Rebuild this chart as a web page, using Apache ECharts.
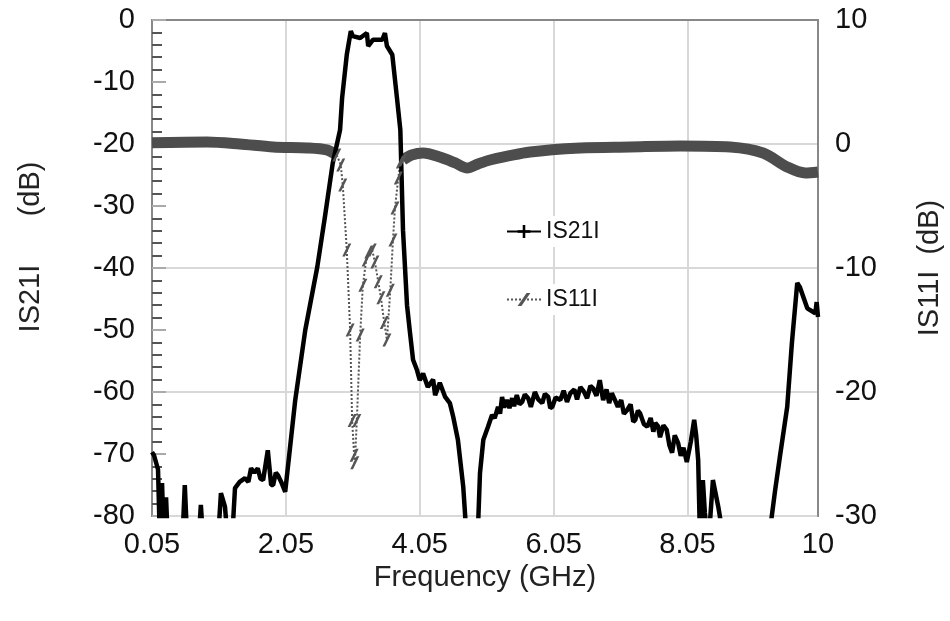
<!DOCTYPE html>
<html>
<head>
<meta charset="utf-8">
<title>IS21I / IS11I</title>
<script src="https://cdn.jsdelivr.net/npm/echarts@6/dist/echarts.min.js"></script>
<style>
  html, body { margin: 0; padding: 0; background: #fff; }
  #chart { width: 950px; height: 621px; }
</style>
</head>
<body>
<div id="chart"></div>
<script>
// frequency axis labels (GHz)
var xTicks = [0.05, 2.05, 4.05, 6.05, 8.05, 10];

// IS21I [GHz, dB]  (values below -80 run off the bottom of the plot)
var s21 = [
  [0.05,-69.7],[0.08,-70.2],[0.14,-72.5],[0.17,-85],[0.2,-74.7],[0.23,-85],[0.26,-77],[0.29,-85],
  [0.5,-85],[0.54,-75],[0.58,-85],
  [0.74,-85],[0.78,-78.2],[0.82,-85],
  [1.03,-85],[1.08,-76.3],[1.14,-78.5],[1.19,-85],[1.24,-85],[1.29,-75.5],[1.36,-74.5],[1.44,-73.9],
  [1.49,-74.5],[1.53,-72.3],[1.58,-73],[1.63,-72.3],[1.67,-74],[1.71,-74.2],[1.78,-69.4],[1.83,-75],
  [1.86,-75],[1.9,-73],[1.93,-73.4],[1.98,-74.5],[2.04,-76.1],
  [2.19,-61.3],[2.34,-50],[2.52,-39.8],[2.63,-32],[2.75,-23.1],[2.86,-17.7],[2.89,-12.6],[2.96,-5.6],
  [3.02,-1.8],[3.05,-2.6],[3.16,-2.9],[3.26,-2.1],[3.28,-4.2],[3.35,-3.2],[3.49,-3.2],[3.53,-2.1],
  [3.56,-4.2],[3.64,-5.6],[3.71,-12.6],[3.76,-17.7],[3.8,-33.9],[3.86,-46],[3.9,-50],[3.95,-54.8],
  [4.01,-56.5],[4.05,-58.1],[4.1,-57],[4.17,-59.2],[4.25,-58],[4.28,-60.5],[4.35,-58.5],[4.43,-60.8],
  [4.5,-61.8],[4.55,-64],[4.62,-67.7],[4.7,-75.3],[4.76,-85],[4.91,-85],[4.95,-73.1],
  [5,-67.7],[5.07,-65.6],[5.13,-63.7],[5.17,-64.2],[5.22,-62.4],[5.25,-63.5],[5.28,-60.8],[5.31,-62.5],
  [5.35,-61.3],[5.39,-62.6],[5.43,-61],[5.46,-62.3],[5.5,-60.5],[5.54,-62],[5.58,-61.6],[5.62,-60.4],
  [5.67,-61],[5.71,-62.4],[5.77,-60],[5.82,-61.2],[5.88,-61.8],[5.92,-60.3],[5.97,-60.8],[6,-62.6],
  [6.03,-62.4],[6.08,-60.9],[6.15,-61.3],[6.2,-59.8],[6.25,-61.6],[6.3,-60.2],[6.36,-59.6],[6.4,-61.2],
  [6.45,-59.2],[6.5,-59.9],[6.55,-61],[6.6,-59],[6.64,-59.4],[6.69,-60.6],[6.74,-58.1],[6.79,-61.3],
  [6.84,-59.6],[6.88,-61.8],[6.92,-60.2],[6.97,-61.4],[7.01,-62.4],[7.06,-61.3],[7.1,-63.5],[7.15,-62.9],
  [7.2,-62],[7.24,-64.8],[7.27,-64.5],[7.31,-63],[7.34,-63.4],[7.4,-65.2],[7.45,-65.6],[7.5,-64.2],
  [7.54,-66.4],[7.57,-65],[7.61,-65.5],[7.64,-67.3],[7.69,-65.4],[7.74,-66.1],[7.78,-68.6],[7.82,-69.8],
  [7.86,-67],[7.91,-68.2],[7.95,-70.3],[7.99,-69],[8.04,-71.3],[8.1,-68],[8.15,-64.5],[8.18,-67],
  [8.21,-71],[8.24,-85],[8.28,-74.2],[8.31,-79.5],[8.36,-85],[8.43,-74.2],[8.51,-78.5],
  [8.61,-85],[9.25,-85],[9.36,-75.8],[9.43,-70.5],[9.54,-62.4],[9.61,-52.1],[9.69,-42.4],[9.73,-43.1],
  [9.84,-46.5],[9.96,-47.3],[9.98,-45.5],[10,-47.9]
];

// IS11I [GHz, dB]
var s11 = [
  [0.05,0.1],[0.87,0.16],[1.36,0],[1.86,-0.24],[2.37,-0.32],[2.66,-0.48],[2.81,-0.89],
  [2.87,-1.69],[2.9,-3.31],[2.96,-8.55],[3.01,-15],[3.04,-22.3],[3.07,-25.1],[3.08,-25.7],
  [3.11,-22.3],[3.16,-15.4],[3.2,-11.4],[3.25,-9.35],[3.29,-8.71],[3.34,-8.55],[3.38,-9.52],
  [3.43,-11.1],[3.47,-12.4],[3.52,-14.4],[3.56,-15.8],[3.61,-11.8],[3.65,-7.74],[3.68,-5.16],
  [3.73,-2.74],[3.76,-1.45],[3.8,-1.29],
  [3.93,-0.89],[4.1,-0.73],[4.35,-1.05],[4.58,-1.53],[4.76,-1.94],[4.92,-1.61],[5.1,-1.29],
  [5.7,-0.65],[6.45,-0.32],[7.19,-0.24],[7.94,-0.16],[8.69,-0.24],[9.18,-0.73],[9.54,-1.85],
  [9.81,-2.34],[10,-2.26]
];

// passband part of IS11I is drawn dotted with markers
var passLo = 2.81, passHi = 3.8;

;(function(){

  var myChart = echarts.init(document.getElementById('chart'));

  var plus = 'path://M4,0 H6 V4 H10 V6 H6 V10 H4 V6 H0 V4 H4 Z';
  var slash = 'path://M0,10 L7,0 L10,0 L3,10 Z';
  var font = 'Liberation Sans';

  // split IS11I into the solid band and the dotted passband
  var band = s11.map(function(p){
    return (p[0] > passLo && p[0] < passHi) ? [p[0], null] : p;
  });
  var pass = s11.filter(function(p){
    return p[0] >= passLo && p[0] <= passHi;
  });

  var option = {
    animation: false,
    backgroundColor: '#fff',
    textStyle: { fontFamily: font },
    grid: {
      left: 152, right: 132, top: 20, bottom: 105,
      outerBoundsMode: 'none',
      show: true, borderColor: '#888', borderWidth: 2
    },
    legend: [{
      data: ['IS21I'],
      left: 500, top: 216,
      itemWidth: 34, itemHeight: 16,
      padding: [4, 6],
      backgroundColor: '#fff',
      textStyle: { fontSize: 23, color: '#111' }
    }, {
      data: ['IS11I'],
      left: 500, top: 284,
      itemWidth: 34, itemHeight: 16,
      padding: [4, 6],
      backgroundColor: '#fff',
      textStyle: { fontSize: 23, color: '#111' }
    }],
    xAxis: {
      type: 'value',
      min: 0.05, max: 10,
      name: 'Frequency (GHz)',
      nameLocation: 'middle',
      nameGap: 46,
      nameTextStyle: { fontSize: 29, color: '#222' },
      axisLine: { lineStyle: { color: '#888', width: 2 } },
      axisTick: { show: false, customValues: xTicks },
      axisLabel: {
        customValues: xTicks,
        fontSize: 29, color: '#111', margin: 14,
        formatter: function(v){ return String(v); }
      },
      splitLine: { show: true, lineStyle: { color: '#d8d8d8', width: 2 } }
    },
    yAxis: [{
      type: 'value',
      min: -80, max: 0, interval: 10,
      position: 'left',
      name: 'IS21I      (dB)',
      nameLocation: 'middle',
      nameRotate: 90,
      nameGap: 107,
      nameTextStyle: { fontSize: 29, color: '#222', padding: [0, 0, 0, 42] },
      axisLine: { show: true, lineStyle: { color: '#888', width: 2 } },
      axisTick: { show: true, inside: true, length: 14, lineStyle: { color: '#aaa', width: 2 } },
      minorTick: { show: true, splitNumber: 5, length: 10, lineStyle: { color: '#555', width: 2 } },
      axisLabel: { fontSize: 29, color: '#111', margin: 17 },
      splitLine: { show: false }
    }, {
      type: 'value',
      min: -30, max: 10, interval: 10,
      position: 'right',
      name: 'IS11I  (dB)',
      nameLocation: 'middle',
      nameRotate: 90,
      nameGap: 97,
      nameTextStyle: { fontSize: 29, color: '#222' },
      axisLine: { show: true, lineStyle: { color: '#888', width: 2 } },
      axisTick: { show: false },
      axisLabel: { fontSize: 29, color: '#111', margin: 17 },
      splitLine: { show: true, lineStyle: { color: '#d8d8d8', width: 2 } }
    }],
    series: [{
      name: 'IS11I band',
      type: 'line',
      yAxisIndex: 1,
      data: band,
      showSymbol: false,
      symbol: 'none',
      smooth: 0.3,
      lineStyle: { color: '#4d4d4d', width: 11 }
    }, {
      name: 'IS11I',
      type: 'line',
      yAxisIndex: 1,
      data: pass,
      symbol: slash,
      symbolSize: [9, 13],
      itemStyle: { color: '#555' },
      lineStyle: { color: '#555', width: 2, type: 'dotted' }
    }, {
      name: 'IS21I',
      type: 'line',
      yAxisIndex: 0,
      data: s21,
      symbol: plus,
      symbolSize: 16,
      showSymbol: false,
      itemStyle: { color: '#000' },
      lineStyle: { color: '#000', width: 4.5 }
    }]
  };

  myChart.setOption(option);

})();
</script>
</body>
</html>
